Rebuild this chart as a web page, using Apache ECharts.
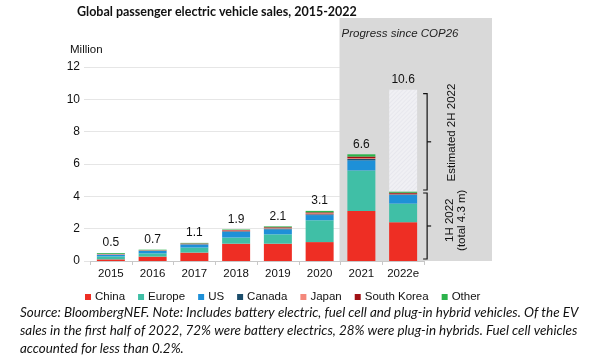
<!DOCTYPE html>
<html>
<head>
<meta charset="utf-8">
<script src="https://cdn.jsdelivr.net/npm/echarts@6/dist/echarts.min.js"></script>
<style>html,body{margin:0;padding:0;background:#fff;}#main{width:600px;height:361px;}</style>
</head>
<body>
<div id="main"></div>
<script>
var categories = ['2015','2016','2017','2018','2019','2020','2021','2022e'];
var china      = [0.10, 0.27, 0.52, 1.07, 1.07, 1.17, 3.10, 2.40];
var europe     = [0.18, 0.20, 0.31, 0.38, 0.58, 1.35, 2.50, 1.15];
var us         = [0.11, 0.16, 0.19, 0.35, 0.31, 0.32, 0.63, 0.53];
var canada     = [0.01, 0.01, 0.02, 0.04, 0.05, 0.05, 0.08, 0.04];
var japan      = [0.03, 0.02, 0.03, 0.05, 0.04, 0.06, 0.05, 0.04];
var southKorea = [0.01, 0.01, 0.02, 0.03, 0.04, 0.06, 0.10, 0.06];
var other      = [0.05, 0.03, 0.03, 0.03, 0.05, 0.09, 0.14, 0.08];
var estimated2H = [null, null, null, null, null, null, null, 6.3];
var totals     = ['0.5','0.7','1.1','1.9','2.1','3.1','6.6','10.6'];
var firstHalfTotal = 4.3;
var yTicks = [0, 2, 4, 6, 8, 10, 12];

var colors = {
  China: '#ee2e24', Europe: '#40bfa6', US: '#1e90d8', Canada: '#1b4d6b',
  Japan: '#f4887b', 'South Korea': '#a01014', Other: '#2cb34b'
};

var chart = echarts.init(document.getElementById('main'), null, {renderer: 'canvas'});
var lastIdx = categories.length - 1;

function mk(name, data) {
  var s = {
    name: name, type: 'bar', stack: 'ev', data: data, barWidth: 28,
    itemStyle: {color: colors[name]}, z: 3
  };
  if (name === 'Other') {
    s.label = {
      show: true, position: 'top', distance: 4, color: '#111',
      fontFamily: 'Liberation Sans', fontSize: 12,
      formatter: function (p) { return p.dataIndex < lastIdx ? totals[p.dataIndex] : ''; }
    };
  }
  return s;
}

var series = [
  mk('China', china), mk('Europe', europe), mk('US', us), mk('Canada', canada),
  mk('Japan', japan), mk('South Korea', southKorea), mk('Other', other),
  {
    name: 'Estimated 2H', type: 'bar', stack: 'ev', data: estimated2H, barWidth: 28, z: 3,
    itemStyle: {
      color: '#f0f0f4',
      decal: {symbol: 'rect', symbolSize: 1, dashArrayX: [1, 0], dashArrayY: [1, 2], rotation: -Math.PI / 4, color: 'rgba(200,200,215,0.22)'}
    },
    label: {
      show: true, position: 'top', distance: 4, color: '#111',
      fontFamily: 'Liberation Sans', fontSize: 12,
      formatter: function (p) { return totals[p.dataIndex]; }
    }
  }
];

var option = {
  animation: false,
  backgroundColor: '#fff',
  title: {
    text: 'Global passenger electric vehicle sales, 2015-2022',
    left: 77, top: 5, padding: 0,
    textStyle: {fontFamily: 'Lato', fontWeight: 'bold', fontSize: 12.5, color: '#111'}
  },
  grid: {left: 90, right: 176, top: 67, bottom: 100, containLabel: false},
  legend: {
    data: ['China','Europe','US','Canada','Japan','South Korea','Other'],
    left: 80, top: 286, icon: 'rect', itemWidth: 6, itemHeight: 6, itemGap: 13,
    textStyle: {fontFamily: 'Liberation Sans', fontSize: 11.5, color: '#111', padding: [0,0,0,-1]}
  },
  xAxis: {
    type: 'category', data: categories,
    axisLine: {lineStyle: {color: '#c8c8c8'}},
    axisTick: {show: true, length: 4, lineStyle: {color: '#c8c8c8'}},
    axisLabel: {color: '#111', fontFamily: 'Liberation Sans', fontSize: 11.5, margin: 7}
  },
  yAxis: {
    type: 'value', min: 0, max: 12, interval: 2,
    axisLine: {show: false},
    axisTick: {show: true, length: 6, lineStyle: {color: '#e3e3e3'}},
    splitLine: {lineStyle: {color: '#e6e6e6'}},
    axisLabel: {color: '#111', fontFamily: 'Liberation Sans', fontSize: 12, margin: 10,
      formatter: function (v) { return yTicks.indexOf(v) >= 0 ? String(v) : ''; }}
  },
  series: series
};
chart.setOption(option);

// Annotations, positioned through the chart's own scales
var p2020 = chart.convertToPixel({gridIndex: 0}, ['2020', 0]);
var p2021 = chart.convertToPixel({gridIndex: 0}, ['2021', 0]);
var p22top = chart.convertToPixel({gridIndex: 0}, ['2022e', china[lastIdx] + europe[lastIdx] + us[lastIdx] + canada[lastIdx] + japan[lastIdx] + southKorea[lastIdx] + other[lastIdx] + estimated2H[lastIdx]]);
var p22mid = chart.convertToPixel({gridIndex: 0}, ['2022e', firstHalfTotal]);
var p22zero = chart.convertToPixel({gridIndex: 0}, ['2022e', 0]);
var band = p2021[0] - p2020[0];
var grayLeft = p2020[0] + band / 2 - 1;
var grayTop = 18, grayRight = 492;
var bx = p22zero[0] + 20; // brace x (serif start)

function brace(y1, y2) {
  var m = (y1 + y2) / 2;
  return [
    {type: 'polyline', z: 5, shape: {points: [[bx, y1], [bx + 4, y1], [bx + 4, y2], [bx, y2]]}, style: {stroke: '#111', lineWidth: 1.2, fill: null}},
    {type: 'line', z: 5, shape: {x1: bx + 4, y1: m, x2: bx + 8, y2: m}, style: {stroke: '#111', lineWidth: 1.2}}
  ];
}

var footFont = 'italic 13.4px Lato';
var gfx = [
  {type: 'rect', z: 1, silent: true, shape: {x: grayLeft, y: grayTop, width: grayRight - grayLeft, height: p22zero[1] - grayTop}, style: {fill: '#d9d9d9'}},
  {type: 'text', z: 5, style: {text: 'Progress since COP26', x: 400, y: 34, align: 'center', verticalAlign: 'middle', font: 'italic 11.5px "Liberation Sans"', fill: '#222'}},
  {type: 'text', z: 5, style: {text: 'Million', x: 70, y: 50, align: 'left', verticalAlign: 'middle', font: '11.5px "Liberation Sans"', fill: '#111'}},
  {type: 'text', z: 5, x: bx + 29, y: (p22top[1] + p22mid[1]) / 2 - 8, rotation: Math.PI / 2,
    style: {text: 'Estimated 2H 2022', x: 0, y: 0, align: 'center', verticalAlign: 'middle', font: '11.5px "Liberation Sans"', fill: '#111'}},
  {type: 'text', z: 5, x: bx + 33, y: (p22mid[1] + p22zero[1]) / 2 - 6, rotation: Math.PI / 2,
    style: {text: '1H 2022\n(total 4.3 m)', x: 0, y: 0, align: 'center', verticalAlign: 'middle', font: '11.5px "Liberation Sans"', lineHeight: 12, fill: '#111'}},
  {type: 'text', z: 5, style: {text: 'Source: BloombergNEF. Note: Includes battery electric, fuel cell and plug-in hybrid vehicles. Of the EV', x: 20, y: 313, verticalAlign: 'middle', font: footFont, fill: '#111'}},
  {type: 'text', z: 5, style: {text: 'sales in the first half of 2022, 72% were battery electrics, 28% were plug-in hybrids. Fuel cell vehicles', x: 20, y: 331, verticalAlign: 'middle', font: footFont, fill: '#111'}},
  {type: 'text', z: 5, style: {text: 'accounted for less than 0.2%.', x: 20, y: 349, verticalAlign: 'middle', font: footFont, fill: '#111'}}
];
gfx = gfx.concat(brace(p22top[1] + 4, p22mid[1] - 1.5), brace(p22mid[1] + 1.5, p22zero[1] - 2));
chart.setOption({graphic: {elements: gfx}});
</script>
</body>
</html>
